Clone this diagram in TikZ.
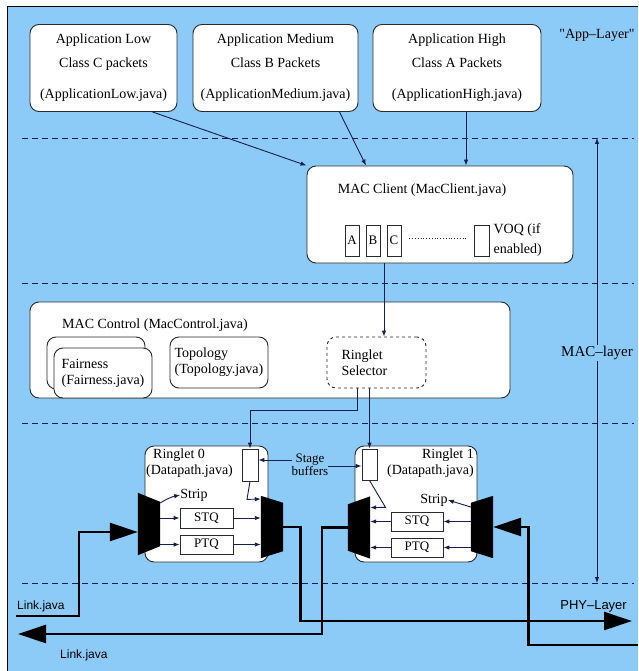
\documentclass[tikz,border=0pt]{standalone}
\usepackage{fontspec}
\setmainfont{Liberation Serif}
\newfontfamily\linkfont{Liberation Sans}
\newfontfamily\plainserif{Liberation Serif}
\usetikzlibrary{arrows.meta,positioning,calc}
\definecolor{rprsky}{HTML}{8CCBF7}
\definecolor{rprink}{HTML}{16204A}
\definecolor{rprbox}{HTML}{2A2A2A}

\begin{document}
\begin{tikzpicture}[x=1pt, y=-1pt,
  every node/.style={font=\fontsize{14}{16}\selectfont, text=black},
  modbox/.style={draw=rprbox, fill=white, rounded corners=9pt, line width=0.9pt, inner sep=0pt},
  queue/.style={draw=rprbox, fill=white, line width=0.8pt, inner sep=0pt, font=\fontsize{13}{15}\selectfont},
  muxspan/.style={inner sep=0pt, minimum width=22pt, minimum height=62pt},
  wire/.style={draw=rprink, line width=0.9pt},
  tip/.style={wire, -{Latex[length=6pt,width=4.5pt]}},
  layer/.style={draw=rprink, line width=0.9pt, dash pattern=on 6pt off 4pt},
  link/.style={draw=black, line width=2.6pt},
  bigtip/.style={link, -{Triangle[length=28pt,width=18pt]}},
  sidelabel/.style={font=\linkfont\fontsize{12}{14}\selectfont, inner sep=0pt}]
  \useasboundingbox (0,0) rectangle (638,671);
  \fill[rprsky] (7,7) rectangle (638,671);
  \draw[black, line width=1pt] (7,671) -- (7,7) -- (638,7);

  % layer separators
  \foreach \y in {138,283,423,583}
    \draw[layer] (22,\y) -- (634,\y);

  % application layer
  \node[modbox, minimum width=147pt, minimum height=87pt, align=center] (appLow) at (103.5,68)
    {Application Low\\[8pt]Class C packets\\[15pt](ApplicationLow.java)};
  \node[modbox, minimum width=165pt, minimum height=87pt, align=center] (appMed) at (275.5,68)
    {Application Medium\\[8pt]Class B Packets\\[15pt](ApplicationMedium.java)};
  \node[modbox, minimum width=168pt, minimum height=87pt, align=center] (appHigh) at (457,68)
    {Application High\\[8pt]Class A Packets\\[15pt](ApplicationHigh.java)};
  \node[font=\plainserif\fontsize{14}{16}\selectfont] (appLbl) at (597,35) {"App–Layer"};

  % MAC client
  \node[modbox, minimum width=266pt, minimum height=97pt] (macClient) at (440,214.5) {};
  \node (clientLbl) at (422,190) {MAC Client (MacClient.java)};
  \node[queue, minimum width=14pt, minimum height=31pt] (qA) at (352,240.5) {A};
  \node[queue, minimum width=14pt, minimum height=31pt] (qB) at (373,240.5) {B};
  \node[queue, minimum width=14pt, minimum height=31pt] (qC) at (394,240.5) {C};
  \node[queue, minimum width=15pt, minimum height=31pt] (qVOQ) at (481.5,240.5) {};
  \draw[rprbox, line width=0.8pt, dotted] ([xshift=8pt,yshift=2pt]qC.east) -- ([xshift=-7pt,yshift=2pt]qVOQ.west);
  \node[right=4pt of qVOQ, inner sep=0pt, align=left, font=\fontsize{14}{20}\selectfont] (voqLbl) {VOQ (if\\enabled)};

  \draw[tip] ([xshift=49pt]appLow.south) -- (macClient.north west);
  \draw[tip] ([xshift=64pt]appMed.south) -- ([xshift=-74pt]macClient.north);
  \draw[tip] ([xshift=9pt]appHigh.south) -- ([xshift=9pt]appHigh.south |- macClient.north);

  % MAC control
  \node[modbox, minimum width=480pt, minimum height=96pt] (macControl) at (270,350) {};
  \node[anchor=west, inner sep=0pt] (controlLbl) at (62,325) {MAC Control (MacControl.java)};
  \node[modbox, minimum width=98pt, minimum height=52pt] (fairBack) at (96,363) {};
  \node[modbox, minimum width=98pt, minimum height=50pt, align=left] (fairness) at (103,373)
    {Fairness\\(Fairness.java)};
  \node[modbox, minimum width=98pt, minimum height=51pt, align=left] (topology) at (219,362.5)
    {Topology\\(Topology.java)};
  \node[modbox, dashed, minimum width=99pt, minimum height=51pt, text width=70pt, align=left] (selector) at (376.5,362.5)
    {Ringlet\\Selector};
  \draw[tip] ([xshift=7.5pt]selector.north |- macClient.south) -- ([xshift=7.5pt]selector.north);

  % MAC layer extent
  \node[fill=rprsky, inner sep=1pt, font=\fontsize{15}{17}\selectfont] (macLbl) at (597,353) {MAC–layer};
  \coordinate (macTop) at (597,138);
  \coordinate (macBot) at (597,583);
  \draw[tip] (macLbl.north) -- (macTop);
  \draw[tip] (macLbl.south) -- (macBot);

  % ringlet 0
  \node[modbox, minimum width=123pt, minimum height=116pt] (ring0) at (206.5,504) {};
  \node[anchor=north west, inner sep=0pt, align=left] (ring0Lbl) at (146,449) {\hspace{7pt}Ringlet 0\\(Datapath.java)};
  \node[queue, minimum width=16pt, minimum height=32pt] (sb0) at (250,465) {};
  \node[inner sep=0pt] (strip0) at (194,495) {Strip};
  \node[queue, minimum width=53pt, minimum height=20pt] (stq0) at (206.5,518) {STQ};
  \node[queue, minimum width=53pt, minimum height=19pt] (ptq0) at (206.5,544.5) {PTQ};
  \node[muxspan] (mux0a) at (149,524) {};
  \node[muxspan] (mux0b) at (272,527) {};
  \fill (mux0a.north west) -- ([yshift=-9pt]mux0a.north east) -- ([yshift=9pt]mux0a.south east) -- (mux0a.south west) -- cycle;
  \fill (mux0b.north west) -- ([yshift=-7pt]mux0b.north east) -- ([yshift=7pt]mux0b.south east) -- (mux0b.south west) -- cycle;

  % ringlet 1
  \node[modbox, minimum width=122pt, minimum height=116pt] (ring1) at (416,504) {};
  \node[anchor=north east, inner sep=0pt, align=right] (ring1Lbl) at (474,449) {Ringlet 1\\(Datapath.java)};
  \node[queue, minimum width=15pt, minimum height=31pt] (sb1) at (369.5,464.5) {};
  \node[inner sep=0pt] (strip1) at (434,500) {Strip};
  \node[queue, minimum width=52pt, minimum height=19pt] (stq1) at (417,521.5) {STQ};
  \node[queue, minimum width=52pt, minimum height=19pt] (ptq1) at (417,547.5) {PTQ};
  \node[muxspan] (mux1a) at (359,527.5) {};
  \node[muxspan] (mux1b) at (482,527) {};
  \fill ([yshift=-8pt]mux1a.north west) -- (mux1a.north east) -- (mux1a.south east) -- ([yshift=8pt]mux1a.south west) -- cycle;
  \fill ([yshift=-7pt]mux1b.north west) -- (mux1b.north east) -- (mux1b.south east) -- ([yshift=7pt]mux1b.south west) -- cycle;

  % stage buffers
  \node[align=center, inner sep=0pt, font=\fontsize{13}{10}\selectfont] (stageLbl) at (310,465) {Stage\\buffers};
  \draw[tip] ([yshift=5pt]stageLbl.west) -- ([yshift=5pt]stageLbl.west -| sb0.east);
  \draw[tip] ([yshift=-1pt]stageLbl.east) -- ([yshift=-1pt]stageLbl.east -| sb1.west);
  \draw[tip] ([xshift=-19.5pt]selector.south) -- ++(0,22) -| (sb0.north);
  \draw[tip] (sb1.north |- selector.south) -- (sb1.north);

  % datapath inside ringlets
  \draw[tip] (mux0a.east |- stq0.west) -- (stq0.west);
  \draw[tip] (mux0a.east |- ptq0.west) -- (ptq0.west);
  \draw[tip] (stq0.east) -- (stq0.east -| mux0b.west);
  \draw[tip] (ptq0.east) -- (ptq0.east -| mux0b.west);
  \draw[tip] ([yshift=21pt]mux0a.east) to[bend left=10] (strip0.west);
  \draw[tip] (sb0.south) -- ++(-3,18) -- ([yshift=28pt]mux0b.west);
  \draw[tip] (mux1b.west |- stq1.east) -- (stq1.east);
  \draw[tip] (mux1b.west |- ptq1.east) -- (ptq1.east);
  \draw[tip] (stq1.west) -- (stq1.west -| mux1a.east);
  \draw[tip] (ptq1.west) -- (ptq1.west -| mux1a.east);
  \draw[tip] ([yshift=20pt]mux1b.west) -- (strip1.east);
  \draw[tip] (sb1.south) -- ++(16,27) -- ([yshift=20pt]mux1a.east);

  % physical links
  \coordinate (lnkIn0) at (16,616);
  \coordinate (phyOut) at (632,621);
  \coordinate (lnkOut) at (18,634);
  \coordinate (lnkIn1) at (638,645);
  \draw[bigtip] (lnkIn0) -- ++(63,0) |- ([yshift=-8pt]mux0a.west);
  \draw[bigtip] (mux0b.east) -- ++(17,0) |- (phyOut);
  \draw[bigtip] (mux1a.west) -- ++(-26,0) |- (lnkOut);
  \draw[bigtip] (lnkIn1) -| ([xshift=35pt]mux1b.east) -- (mux1b.east);
  \node[sidelabel, anchor=west] (linkUp) at (17,606) {Link.java};
  \node[sidelabel, anchor=west] (linkLow) at (60,655) {Link.java};
  \node[sidelabel, anchor=east, font=\linkfont\fontsize{13}{15}\selectfont] (phyLbl) at (627,606) {PHY–Layer};
\end{tikzpicture}
\end{document}
